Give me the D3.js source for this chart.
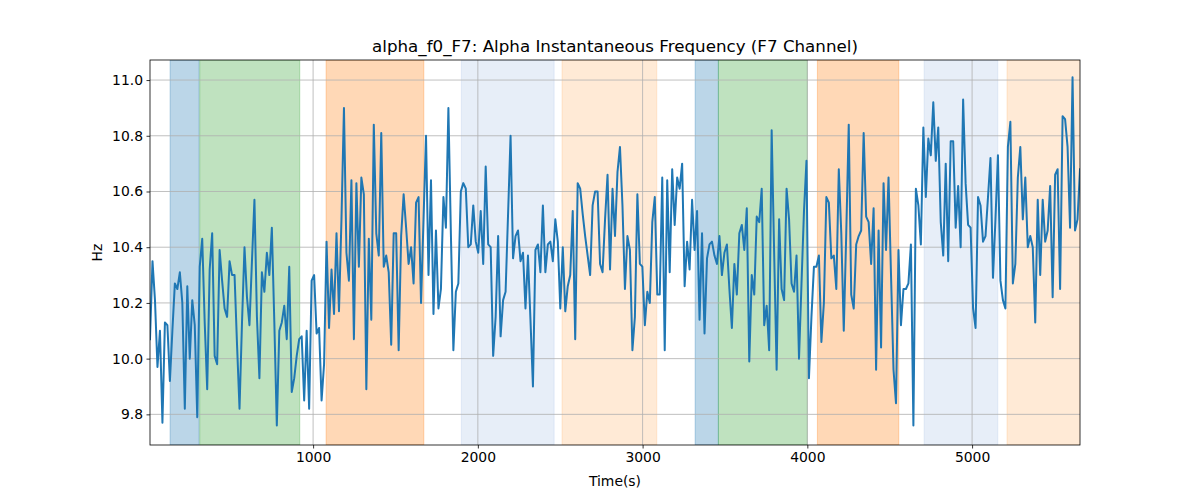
<!DOCTYPE html>
<html>
<head>
<meta charset="utf-8">
<script src="https://cdn.jsdelivr.net/npm/d3@7"></script>
<style>
  html, body { margin: 0; padding: 0; background: #fff; }
  svg { display: block; font-family: "DejaVu Sans", sans-serif; }
</style>
</head>
<body>
<svg id="chart" width="1200" height="500"></svg>
<script>
// ---- data ----
const titleText = "alpha_f0_F7: Alpha Instantaneous Frequency (F7 Channel)";
const xLabel = "Time(s)";
const yLabel = "Hz";
const tStart = 10;
const tEnd = 5655;
const xTicks = [1000, 2000, 3000, 4000, 5000];
const yTicks = [9.8, 10.0, 10.2, 10.4, 10.6, 10.8, 11.0];
const yDomain = [9.69, 11.072];

const freq = [
  10.07, 10.35, 10.21, 9.97, 10.10, 9.77, 10.13, 10.12, 9.92, 10.10,
  10.27, 10.25, 10.31, 10.20, 9.82, 10.26, 10.00, 10.21, 10.12, 9.79,
  10.33, 10.43, 10.13, 9.89, 10.32, 10.45, 10.01, 9.98, 10.39, 10.28,
  10.18, 10.15, 10.35, 10.30, 10.30, 10.05, 9.82, 10.13, 10.40, 10.22,
  10.12, 10.35, 10.57, 10.15, 9.93, 10.31,
  10.24, 10.38, 10.30, 10.47, 10.13, 9.76, 10.10, 10.13, 10.19, 10.07,
  10.33, 9.88, 9.93, 10.01, 10.07, 10.08, 9.85, 10.10, 9.82, 10.28,
  10.30, 10.09, 10.11, 9.85, 9.98, 10.42, 10.11, 10.32, 10.16, 10.45,
  10.17, 10.50, 10.90, 10.38, 10.28, 10.64, 10.07, 10.63, 10.33, 10.65,
  10.59, 9.89, 10.43, 10.14, 10.84, 10.45, 10.37,
  10.81, 10.33, 10.37, 10.31, 10.05, 10.45, 10.45, 10.03, 10.44, 10.59,
  10.47, 10.34, 10.40, 10.27, 10.56, 10.58, 10.20, 10.50, 10.80, 10.30,
  10.64, 10.16, 10.46, 10.18, 10.25, 10.58, 10.47, 10.90, 10.45, 10.03,
  10.24, 10.27, 10.60, 10.63, 10.61, 10.40, 10.41, 10.55, 10.42, 10.38,
  10.53, 10.34, 10.69, 10.41, 10.40, 10.01,
  10.15, 10.44, 10.08, 10.21, 10.24, 10.52, 10.80, 10.36, 10.44, 10.46,
  10.35, 10.38, 10.18, 10.37, 10.14, 9.90, 10.39, 10.41, 10.31, 10.55,
  10.31, 10.41, 10.42, 10.35, 10.50, 10.42, 10.18, 10.40, 10.17, 10.26,
  10.30, 10.53, 10.07, 10.63, 10.61, 10.52, 10.44, 10.37, 10.30, 10.55,
  10.60, 10.60, 10.34, 10.31, 10.50, 10.66, 10.32,
  10.61, 10.44, 10.67, 10.76, 10.55, 10.25, 10.44, 10.39, 10.03, 10.15,
  10.59, 10.34, 10.33, 10.12, 10.24, 10.20, 10.49, 10.58, 10.23, 10.23,
  10.65, 10.03, 10.64, 10.31, 10.68, 10.48, 10.65, 10.61, 10.70, 10.26,
  10.42, 10.32, 10.57, 10.39, 10.53, 10.14, 10.45, 10.09, 10.36, 10.41,
  10.42, 10.37, 10.34, 10.44, 10.30, 10.38, 10.41,
  10.25, 10.11, 10.34, 10.23, 10.45, 10.48, 10.39, 10.54, 9.99, 10.30,
  10.23, 10.51, 10.49, 10.61, 10.12, 10.19, 10.03, 10.82, 10.38, 9.96,
  10.50, 10.25, 10.21, 10.61, 10.50, 10.27, 10.24, 10.37, 10.00, 10.27,
  10.53, 10.71, 9.93, 10.15, 10.33, 10.33, 10.37, 10.06, 10.20, 10.58,
  10.56, 10.36, 10.37, 10.25, 10.68, 10.45, 10.10,
  10.45, 10.84, 10.23, 10.18, 10.41, 10.44, 10.46, 10.81, 10.51, 10.49,
  10.34, 10.54, 9.96, 10.46, 10.04, 10.63, 10.39, 10.65, 10.30, 9.96,
  9.84, 10.39, 10.12, 10.25, 10.25, 10.27, 10.41, 9.76, 10.61, 10.55,
  10.41, 10.83, 10.58, 10.79, 10.73, 10.92, 10.71, 10.83, 10.49, 10.37,
  10.70, 10.35, 10.78, 10.78, 10.47, 10.62, 10.40,
  10.93, 10.63, 10.48, 10.47, 10.18, 10.11, 10.58, 10.55, 10.42, 10.44,
  10.58, 10.72, 10.29, 10.50, 10.73, 10.28, 10.21, 10.18, 10.76, 10.85,
  10.27, 10.34, 10.65, 10.76, 10.50, 10.65, 10.40, 10.44, 10.40, 10.13,
  10.57, 10.30, 10.57, 10.42, 10.46, 10.62, 10.22, 10.66, 10.68, 10.25,
  10.87, 10.86, 10.76, 10.47, 11.01, 10.46, 10.50, 10.68
];

// shaded intervals: start, end, colour key
const bandStart = [132, 312, 1079, 1900, 2511, 3319, 3460, 4061, 4709, 5212];
const bandEnd   = [308, 919, 1672, 2463, 3086, 3460, 4000, 4555, 5156, 5700];
const bandKind  = ["blue", "green", "orange", "lightblue", "lightorange",
                   "blue", "green", "orange", "lightblue", "lightorange"];
const bandColor = {
  blue: "#1f77b4", green: "#2ca02c", orange: "#ff7f0e",
  lightblue: "#aec7e8", lightorange: "#ffbb78"
};

// ---- layout ----
const margin = {left: 150, right: 120, top: 60, bottom: 55};
const W = 1200, H = 500;
const pw = W - margin.left - margin.right;
const ph = H - margin.top - margin.bottom;

const step = (tEnd - tStart) / (freq.length - 1);
const data = freq.map((v, i) => ({t: tStart + i * step, v}));

const x = d3.scaleLinear().domain([tStart, tEnd]).range([0, pw]);
const y = d3.scaleLinear().domain(yDomain).range([ph, 0]);

const svg = d3.select("#chart");
const g = svg.append("g").attr("transform", `translate(${margin.left},${margin.top})`);

g.append("defs").append("clipPath").attr("id", "clip")
  .append("rect").attr("width", pw).attr("height", ph);

// bands
const bands = bandStart.map((s, i) => ({s, e: bandEnd[i], k: bandKind[i]}));
g.append("g").attr("clip-path", "url(#clip)")
  .selectAll("rect").data(bands).join("rect")
  .attr("x", d => x(d.s))
  .attr("width", d => x(d.e) - x(d.s))
  .attr("y", 0).attr("height", ph)
  .attr("fill", d => bandColor[d.k])
  .attr("fill-opacity", 0.3)
  .attr("stroke", d => bandColor[d.k])
  .attr("stroke-opacity", 0.3)
  .attr("stroke-width", 1);

// grid
const grid = g.append("g");
grid.selectAll("line.gx").data(xTicks).join("line")
  .attr("x1", d => x(d)).attr("x2", d => x(d))
  .attr("y1", 0).attr("y2", ph)
  .attr("stroke", "#b0b0b0").attr("stroke-width", 0.8);
grid.selectAll("line.gy").data(yTicks).join("line")
  .attr("y1", d => y(d)).attr("y2", d => y(d))
  .attr("x1", 0).attr("x2", pw)
  .attr("stroke", "#b0b0b0").attr("stroke-width", 0.8);

// line
g.append("path")
  .datum(data)
  .attr("clip-path", "url(#clip)")
  .attr("fill", "none")
  .attr("stroke", "#1f77b4")
  .attr("stroke-width", 2)
  .attr("stroke-linejoin", "round")
  .attr("stroke-linecap", "square")
  .attr("d", d3.line().x(d => x(d.t)).y(d => y(d.v)));

// axes
const xAxis = g.append("g").attr("transform", `translate(0,${ph})`)
  .call(d3.axisBottom(x).tickValues(xTicks).tickFormat(d3.format("d")).tickSizeOuter(0).tickSize(3.5).tickPadding(3.5));
const yAxis = g.append("g")
  .call(d3.axisLeft(y).tickValues(yTicks).tickFormat(d3.format(".1f")).tickSizeOuter(0).tickSize(3.5).tickPadding(3.5));
[xAxis, yAxis].forEach(a => {
  a.select(".domain").remove();
  a.selectAll(".tick line").attr("stroke", "#000").attr("stroke-width", 0.8);
  a.selectAll(".tick text").attr("fill", "#000").attr("font-size", "13.9px")
    .attr("font-family", "DejaVu Sans, sans-serif");
});

// frame
g.append("rect").attr("width", pw).attr("height", ph)
  .attr("fill", "none").attr("stroke", "#000").attr("stroke-width", 0.8);

// labels
svg.append("text").attr("x", margin.left + pw / 2).attr("y", 52)
  .attr("text-anchor", "middle").attr("font-size", "16.7px").attr("fill", "#000")
  .text(titleText);
svg.append("text").attr("x", margin.left + pw / 2).attr("y", 486)
  .attr("text-anchor", "middle").attr("font-size", "13.9px").attr("fill", "#000")
  .text(xLabel);
svg.append("text")
  .attr("transform", `translate(102,${margin.top + ph / 2}) rotate(-90)`)
  .attr("text-anchor", "middle").attr("font-size", "13.9px").attr("fill", "#000")
  .text(yLabel);
</script>
</body>
</html>
